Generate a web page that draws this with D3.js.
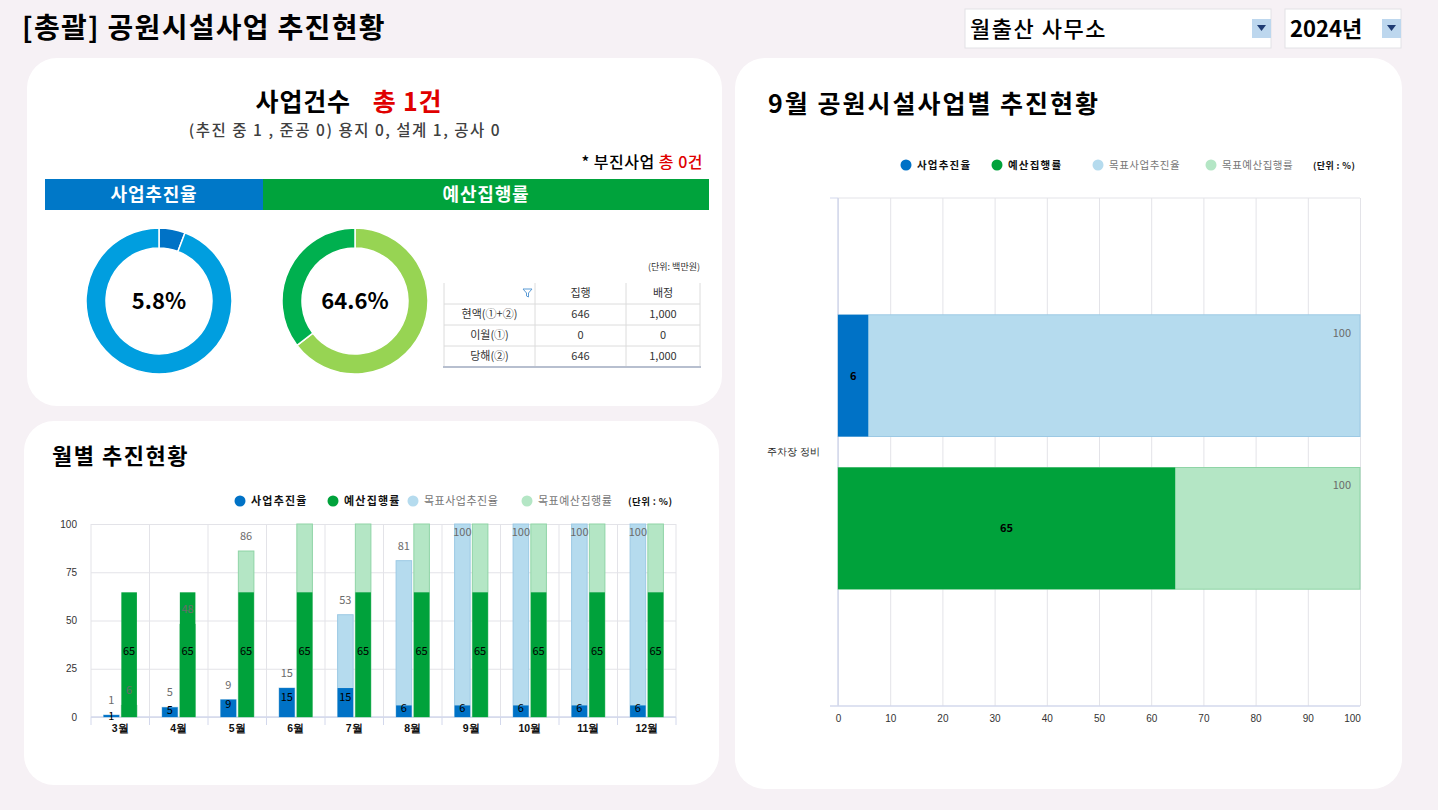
<!DOCTYPE html>
<html><head><meta charset="utf-8">
<script src="https://cdn.jsdelivr.net/npm/d3@7"></script>
<style>
html,body{margin:0;padding:0;background:#f6f1f5;overflow:hidden;}
svg{display:block;font-family:"Noto Sans CJK KR","Noto Sans",sans-serif;}
</style></head><body>
<svg id="c" width="1438" height="810"></svg>
<script>
// ---------- data ----------
const pageTitle = "[총괄] 공원시설사업 추진현황";
const officeName = "월출산 사무소";
const yearName = "2024년";
const projectCount = 1;
const progressRate = 5.8;
const budgetRate = 64.6;
const tableHeaders = ["", "집행", "배정"];
const tableRows = ["현액(①+②)", "이월(①)", "당해(②)"];
const tableExecuted = [646, 0, 646];
const tableAllocated = [1000, 0, 1000];

const months = ["3월","4월","5월","6월","7월","8월","9월","10월","11월","12월"];
const actualProgress = [1, 5, 9, 15, 15, 6, 6, 6, 6, 6];
const actualBudget = [64.6, 64.6, 64.6, 64.6, 64.6, 64.6, 64.6, 64.6, 64.6, 64.6];
const targetProgress = [1, 5, 9, 15, 53, 81, 100, 100, 100, 100];
const targetBudget = [6, 48, 86, 100, 100, 100, 100, 100, 100, 100];
const monthTicks = [0, 25, 50, 75, 100];

const projects = ["주차장 정비"];
const projActualProgress = [5.8];
const projActualBudget = [64.6];
const projTargetProgress = [100];
const projTargetBudget = [100];
const projTicks = [0,10,20,30,40,50,60,70,80,90,100];

const legendNames = ["사업추진율","예산집행률","목표사업추진율","목표예산집행률"];

// ---------- colours ----------
const C = {bg:"#f6f1f5", blue:"#0072c6", green:"#00a23b", lblue:"#b5dbee", lgreen:"#b4e6c5",
  lblueStroke:"#9cc9e4", lgreenStroke:"#8fd4a6", ringBlue:"#009edf", ringGreen:"#00b04f", lightGreen:"#97d453",
  grid:"#e3e3e8", axis:"#d3d8ec"};

const svg = d3.select("#c");
const fmt = d3.format(",");

function txt(g, x, y, s, o = {}) {
  const t = g.append("text").attr("x", x).attr("y", y).text(s)
    .attr("font-size", o.size || 12).attr("fill", o.fill || "#000")
    .attr("font-weight", o.weight || 400).attr("text-anchor", o.anchor || "start");
  if (o.ls) t.attr("letter-spacing", o.ls);
  return t;
}

// background & cards
svg.append("rect").attr("width",1438).attr("height",810).attr("fill",C.bg);
[[27,58,695,348],[24,421,695,364],[735,58,667,731]].forEach(([x,y,w,h]) =>
  svg.append("rect").attr("x",x).attr("y",y).attr("width",w).attr("height",h).attr("rx",30).attr("ry",30).attr("fill","#fff"));

// ---------- header ----------
txt(svg, 22, 38, pageTitle, {size:28, weight:700, ls:1.3});
function dropdown(x, w, label, weight, ls) {
  const g = svg.append("g");
  g.append("rect").attr("x",x).attr("y",9).attr("width",w).attr("height",39).attr("fill","#fff").attr("stroke","#e2e2e6");
  txt(g, x+5, 37, label, {size:22, weight, ls});
  g.append("rect").attr("x",x+w-19).attr("y",19).attr("width",19).attr("height",19).attr("fill","#bdd7ee");
  const cx = x+w-9.5;
  g.append("path").attr("d",`M${cx-4.5},25 L${cx+4.5},25 L${cx},31 Z`).attr("fill","#1f3b73");
}
dropdown(965, 306, officeName, 500, 1.5);
dropdown(1285, 116, yearName, 700, 0);

// ---------- card 1 ----------
const t1 = svg.append("text").attr("x",349).attr("y",111).attr("text-anchor","middle").attr("font-weight",700).attr("font-size",25).attr("letter-spacing",0.8);
t1.append("tspan").text("사업건수");
t1.append("tspan").attr("dx",22).attr("fill","#e00000").text(`총 ${projectCount}건`);
txt(svg, 345, 136, "(추진 중 1 , 준공 0) 용지 0, 설계 1, 공사 0", {size:15.5, weight:500, fill:"#404040", anchor:"middle", ls:1.5});
const t2 = svg.append("text").attr("x",703).attr("y",168).attr("text-anchor","end").attr("font-weight",500).attr("font-size",16).attr("letter-spacing",0.5);
t2.append("tspan").text("* 부진사업 ");
t2.append("tspan").attr("fill","#e00000").text("총 0건");

svg.append("rect").attr("x",45).attr("y",179).attr("width",218).attr("height",31).attr("fill","#0078c8");
svg.append("rect").attr("x",263).attr("y",179).attr("width",446).attr("height",31).attr("fill","#00a33c");
txt(svg, 154, 201, "사업추진율", {size:18, weight:700, fill:"#fff", anchor:"middle", ls:0.8});
txt(svg, 486, 201, "예산집행률", {size:18, weight:700, fill:"#fff", anchor:"middle", ls:0.8});

function donut(cx, cy, value, colors) {
  const g = svg.append("g").attr("transform",`translate(${cx},${cy})`);
  const pie = d3.pie().sort(null)([value, 100 - value]);
  const arc = d3.arc().innerRadius(53).outerRadius(73);
  g.selectAll("path").data(pie).join("path").attr("d",arc)
    .attr("fill",(d,i)=>colors[i]).attr("stroke","#fff").attr("stroke-width",1.5);
  txt(g, 0, 8, value.toFixed(1)+"%", {size:22, weight:700, anchor:"middle"});
}
donut(159, 301, progressRate, [C.blue, C.ringBlue]);
donut(355, 301, budgetRate, [C.lightGreen, C.ringGreen]);

// table
const tg = svg.append("g");
txt(tg, 700, 270, "(단위: 백만원)", {size:9, fill:"#333", anchor:"end"});
const colX = [444, 535, 626, 700];
const rowY = [283, 304, 325, 346, 367];
for (let r = 1; r < rowY.length - 1; r++)
  tg.append("line").attr("x1",444).attr("x2",700).attr("y1",rowY[r]).attr("y2",rowY[r]).attr("stroke","#dcdcdc");
colX.forEach(x => tg.append("line").attr("x1",x).attr("x2",x).attr("y1",283).attr("y2",367).attr("stroke","#dcdcdc"));
tg.append("line").attr("x1",443).attr("x2",701).attr("y1",367).attr("y2",367).attr("stroke","#b7bfcf").attr("stroke-width",2);
tableHeaders.forEach((h,i) => { if (h) txt(tg, (colX[i]+colX[i+1])/2, 297, h, {size:11, fill:"#333", anchor:"middle"}); });
tg.append("path").attr("d","M523,289 L532,289 L528.5,293 L528.5,297 L526.5,296 L526.5,293 Z").attr("fill","none").attr("stroke","#5b9bd5").attr("stroke-width",1);
tableRows.forEach((r,i) => {
  const y = rowY[i+1] + 14;
  txt(tg, (colX[0]+colX[1])/2, y, r, {size:11, fill:"#333", anchor:"middle"});
  txt(tg, (colX[1]+colX[2])/2, y, fmt(tableExecuted[i]), {size:11, fill:"#333", anchor:"middle"});
  txt(tg, (colX[2]+colX[3])/2, y, fmt(tableAllocated[i]), {size:11, fill:"#333", anchor:"middle"});
});

// legend helper
function legend(g, xs, y, size) {
  const cols = [C.blue, C.green, C.lblue, C.lgreen];
  legendNames.forEach((n,i) => {
    g.append("circle").attr("cx",xs[i]).attr("cy",y).attr("r",5.5).attr("fill",cols[i]);
    txt(g, xs[i]+11, y+4, n, {size, weight: i<2?700:400, fill: i<2?"#111":"#777", ls: i<2?1.2:0.5});
  });
  txt(g, xs[4], y+4, "(단위 : %)", {size:size-1.5, weight:700, fill:"#111", ls:0.4});
}

// ---------- card 2: monthly ----------
txt(svg, 52, 464, "월별 추진현황", {size:22, weight:700, ls:1.5});
const mg = svg.append("g");
legend(mg, [240, 333, 413, 527, 628], 501, 11);
const mx = d3.scaleBand().domain(months).range([91, 676]);
const ms = d3.scaleBand().domain(["p","b"]).range([0, mx.bandwidth()]).paddingInner(0.124).paddingOuter(0.71);
const my = d3.scaleLinear().domain([0,100]).range([717, 524]);
mg.append("g").attr("transform","translate(91,0)")
  .call(d3.axisLeft(my).tickValues(monthTicks).tickSize(-585).tickPadding(14))
  .call(g => g.select(".domain").remove())
  .call(g => g.selectAll("line").attr("stroke",C.grid))
  .call(g => g.selectAll("text").attr("font-size",10).attr("fill","#333").attr("font-family","inherit"));
const bounds = months.map(m => mx(m)).concat([676]);
mg.selectAll("line.vg").data(bounds).join("line").attr("class","vg")
  .attr("x1",d=>d).attr("x2",d=>d).attr("y1",524).attr("y2",717).attr("stroke",C.grid);
mg.selectAll("line.vt").data(bounds).join("line").attr("class","vt")
  .attr("x1",d=>d).attr("x2",d=>d).attr("y1",717).attr("y2",725).attr("stroke",C.axis);
mg.append("line").attr("x1",91).attr("x2",676).attr("y1",717).attr("y2",717).attr("stroke",C.axis).attr("stroke-width",1.5);
mg.append("g").attr("transform","translate(0,717)")
  .call(d3.axisBottom(mx).tickSize(0).tickPadding(8))
  .call(g => g.select(".domain").remove())
  .call(g => g.selectAll("text").attr("font-size",10.5).attr("fill","#111").attr("font-weight",600).attr("font-family","inherit"));

const mrow = months.map((m,i) => ({m, ap:actualProgress[i], ab:actualBudget[i], tp:targetProgress[i], tb:targetBudget[i]}));
function bars(cls, key, sub, fill, stroke) {
  mg.selectAll("rect."+cls).data(mrow).join("rect").attr("class",cls)
    .attr("x",d=>mx(d.m)+ms(sub)).attr("width",ms.bandwidth())
    .attr("y",d=>my(d[key])).attr("height",d=>717-my(d[key]))
    .attr("fill",fill).attr("stroke",stroke||"none").attr("stroke-width",stroke?1:0);
}
bars("tp","tp","p",C.lblue,C.lblueStroke);
bars("tb","tb","b",C.lgreen,C.lgreenStroke);
bars("ap","ap","p",C.blue);
bars("ab","ab","b",C.green);
const cxOf = (d,sub) => mx(d.m)+ms(sub)+ms.bandwidth()/2;
// target labels (grey); full-height target-budget labels are not shown in the reference
mg.selectAll("text.ltp").data(mrow).join("text").attr("class","ltp")
  .attr("x",d=>cxOf(d,"p")).attr("y",d=>Math.max(my(d.tp)-15, 532)+4)
  .attr("text-anchor","middle").attr("font-size",11).attr("fill","#6b6b6b").text(d=>Math.round(d.tp));
mg.selectAll("text.ltb").data(mrow.filter(d => d.tb < 100)).join("text").attr("class","ltb")
  .attr("x",d=>cxOf(d,"b")).attr("y",d=>my(d.tb)-15+4)
  .attr("text-anchor","middle").attr("font-size",11).attr("fill","#6b6b6b").text(d=>Math.round(d.tb));
// actual labels (black)
mg.selectAll("text.lap").data(mrow).join("text").attr("class","lap")
  .attr("x",d=>cxOf(d,"p")).attr("y",d=>{const top=my(d.ap), h=717-top; return (h>20? top+9 : top+h*0.25)+4;})
  .attr("text-anchor","middle").attr("font-size",11).attr("fill","#000").text(d=>Math.round(d.ap));
mg.selectAll("text.lab").data(mrow).join("text").attr("class","lab")
  .attr("x",d=>cxOf(d,"b")).attr("y",d=>(my(d.ab)+717)/2)
  .attr("text-anchor","middle").attr("font-size",11).attr("fill","#000").text(d=>Math.round(d.ab));

// ---------- card 3: by project ----------
txt(svg, 768, 113, "9월 공원시설사업별 추진현황", {size:25, weight:700, ls:2});
const pg = svg.append("g");
legend(pg, [906, 997, 1098, 1211, 1313], 165, 10.5);
const px = d3.scaleLinear().domain([0,100]).range([838, 1360]);
const py = d3.scaleBand().domain(projects).range([198, 706]);
const ps = d3.scaleBand().domain(["p","b"]).range([0, py.bandwidth()]).paddingInner(0.203).paddingOuter(0.765);
pg.append("g").attr("transform","translate(0,706)")
  .call(d3.axisBottom(px).tickValues(projTicks).tickSize(-508).tickPadding(9))
  .call(g => g.select(".domain").remove())
  .call(g => g.selectAll("line").attr("stroke",C.grid))
  .call(g => g.selectAll("text").attr("font-size",10).attr("fill","#333").attr("font-family","inherit")
    .attr("dx", d => d === 100 ? -8 : 0));
pg.append("line").attr("x1",838).attr("x2",1360).attr("y1",198).attr("y2",198).attr("stroke",C.grid);
pg.append("line").attr("x1",830).attr("x2",1360).attr("y1",706).attr("y2",706).attr("stroke",C.axis).attr("stroke-width",1.5);
pg.append("line").attr("x1",838).attr("x2",838).attr("y1",198).attr("y2",706).attr("stroke",C.axis).attr("stroke-width",1.5);
pg.append("line").attr("x1",830).attr("x2",838).attr("y1",198).attr("y2",198).attr("stroke",C.axis);
pg.append("g").attr("transform","translate(838,0)")
  .call(d3.axisLeft(py).tickSize(0).tickPadding(18))
  .call(g => g.select(".domain").remove())
  .call(g => g.selectAll("text").attr("font-size",10).attr("fill","#222").attr("font-family","inherit"));

const prow = projects.map((p,i) => ({p, ap:projActualProgress[i], ab:projActualBudget[i], tp:projTargetProgress[i], tb:projTargetBudget[i]}));
function hbars(cls, key, sub, fill, stroke) {
  pg.selectAll("rect."+cls).data(prow).join("rect").attr("class",cls)
    .attr("y",d=>py(d.p)+ps(sub)).attr("height",ps.bandwidth())
    .attr("x",px(0)).attr("width",d=>px(d[key])-px(0))
    .attr("fill",fill).attr("stroke",stroke||"none");
}
hbars("tp","tp","p",C.lblue,C.lblueStroke);
hbars("tb","tb","b",C.lgreen,C.lgreenStroke);
hbars("ap","ap","p",C.blue);
hbars("ab","ab","b",C.green);
[["tp","p"],["tb","b"]].forEach(([k,sub]) => {
  pg.selectAll("text.l"+k).data(prow).join("text").attr("class","l"+k)
    .attr("x",d=>px(d[k])-9).attr("y",d=>py(d.p)+ps(sub)+22)
    .attr("text-anchor","end").attr("font-size",11).attr("fill","#6b6b6b").text(d=>Math.round(d[k]));
});
[["ap","p"],["ab","b"]].forEach(([k,sub]) => {
  pg.selectAll("text.l"+k).data(prow).join("text").attr("class","l"+k)
    .attr("x",d=>(px(d[k])+px(0))/2).attr("y",d=>py(d.p)+ps(sub)+ps.bandwidth()/2+4)
    .attr("text-anchor","middle").attr("font-size",11).attr("font-weight",700).attr("fill","#000").text(d=>Math.round(d[k]));
});
</script>
</body></html>
